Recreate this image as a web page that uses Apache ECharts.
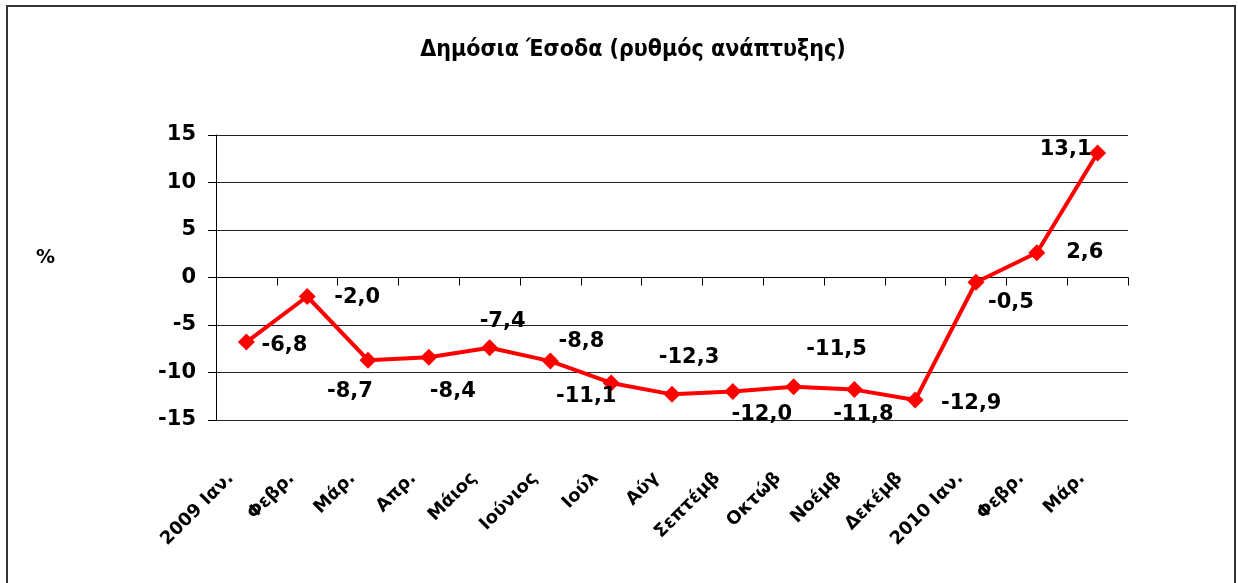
<!DOCTYPE html>
<html>
<head>
<meta charset="utf-8">
<script src="https://cdn.jsdelivr.net/npm/echarts@6/dist/echarts.min.js"></script>
<style>
  html, body { margin: 0; padding: 0; background: #fff; }
  #chart { width: 1238px; height: 583px; }
</style>
</head>
<body>
<div id="chart"></div>
<script>
// μήνες
var months = ['2009 Ιαν.', 'Φεβρ.', 'Μάρ.', 'Απρ.', 'Μάιος', 'Ιούνιος', 'Ιούλ',
  'Αύγ', 'Σεπτέμβ', 'Οκτώβ', 'Νοέμβ', 'Δεκέμβ', '2010 Ιαν.', 'Φεβρ.', 'Μάρ.']
// ρυθμός ανάπτυξης %
var growth = [-6.8, -2.0, -8.7, -8.4, -7.4, -8.8, -11.1, -12.3, -12.0, -11.5, -11.8, -12.9, -0.5, 2.6, 13.1]
var yTicks = { min: -15, max: 15, step: 5 }

// label nudges (pixels from the marker), layout only
var nudge = [[38, 3], [50, 1], [-18, 31], [24, 34], [13, -26], [31, -20], [-25, 14],
  [17, -37], [29, 23], [43, -37], [9, 25], [56, 3], [35, 20], [48, 0], [-32, -4]]

var font = '"DejaVu Sans", Verdana, sans-serif'

var chart = echarts.init(document.getElementById('chart'))
var option = {
  backgroundColor: '#fff',
  animation: false,
  title: {
    text: 'Δημόσια Έσοδα (ρυθμός ανάπτυξης)',
    left: 628,
    textAlign: 'center',
    top: 34,
    textStyle: {
      fontFamily: '"DejaVu Sans Condensed", "DejaVu Sans", sans-serif',
      fontSize: 23,
      fontWeight: 'bold',
      color: '#000'
    }
  },
  graphic: [{
    type: 'rect',
    shape: { x: 7, y: 6, width: 1228, height: 620 },
    style: { fill: 'none', stroke: '#333', lineWidth: 2 },
    silent: true
  }, {
    type: 'text',
    left: 36,
    top: 249,
    style: { text: '%', fontFamily: font, fontSize: 19, fontWeight: 'bold', fill: '#000' }
  }],
  grid: {
    left: 216,
    right: 110,
    top: 135,
    bottom: 163
  },
  xAxis: [{
    type: 'category',
    data: months,
    position: 'bottom',
    axisLine: { show: false, onZero: false },
    axisTick: { show: false },
    axisLabel: {
      interval: 0,
      rotate: 45,
      margin: 40,
      padding: [0, 22, 0, 0],
      fontFamily: font,
      fontSize: 18,
      fontWeight: 'bold',
      color: '#000'
    }
  }, {
    type: 'category',
    data: months,
    position: 'bottom',
    axisLine: { show: true, onZero: true, lineStyle: { color: '#000', width: 1 } },
    axisTick: { show: true, interval: 0, length: 8, lineStyle: { color: '#000' } },
    axisLabel: { show: false }
  }],
  yAxis: {
    type: 'value',
    min: yTicks.min,
    max: yTicks.max,
    interval: yTicks.step,
    axisLine: { show: true, lineStyle: { color: '#000' } },
    axisTick: { show: true, length: 8, lineStyle: { color: '#000' } },
    splitLine: { lineStyle: { color: '#222', width: 1 } },
    axisLabel: {
      margin: 20,
      fontFamily: font,
      fontSize: 21,
      fontWeight: 'bold',
      color: '#000'
    }
  },
  series: [{
    type: 'line',
    xAxisIndex: 0,
    data: growth.map(function (v, i) {
      return { value: v, label: { offset: nudge[i] } }
    }),
    symbol: 'diamond',
    symbolSize: 17,
    itemStyle: { color: '#ff0000' },
    lineStyle: { color: '#ff0000', width: 4 },
    label: {
      show: true,
      position: 'inside',
      fontFamily: font,
      fontSize: 21,
      fontWeight: 'bold',
      color: '#000',
      formatter: function (p) {
        return p.value.toFixed(1).replace('.', ',')
      }
    }
  }]
}
chart.setOption(option)
</script>
</body>
</html>
